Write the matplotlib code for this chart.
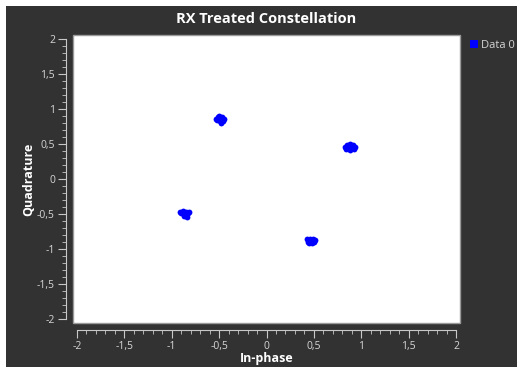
#!/usr/bin/env python3

import matplotlib.pyplot as plt
from matplotlib.patches import Rectangle
from matplotlib.ticker import MultipleLocator, FuncFormatter

# constellation points (4 clusters)
i_pts = [-0.53, -0.50, -0.47, -0.45, -0.52, -0.49, -0.46, -0.50, -0.48, -0.51,
         -0.91, -0.88, -0.85, -0.82, -0.90, -0.86, -0.83, -0.87, -0.84,
         0.43, 0.46, 0.49, 0.51, 0.44, 0.47, 0.50, 0.45, 0.48,
         0.85, 0.88, 0.91, 0.83, 0.86, 0.89, 0.93, 0.84, 0.88, 0.92]
q_pts = [0.86, 0.89, 0.88, 0.85, 0.84, 0.82, 0.83, 0.87, 0.80, 0.88,
         -0.47, -0.46, -0.47, -0.47, -0.49, -0.50, -0.49, -0.53, -0.54,
         -0.86, -0.86, -0.86, -0.87, -0.89, -0.88, -0.89, -0.91, -0.91,
         0.49, 0.50, 0.49, 0.46, 0.46, 0.45, 0.45, 0.42, 0.41, 0.42]
series_name = 'Data 0'

bg = '#323232'
fg = '#d6d6d6'
plt.rcParams['font.family'] = ['Open Sans', 'DejaVu Sans']

W, H = 523, 370
fig = plt.figure(figsize=(W / 100, H / 100), dpi=100, facecolor='white')
fig.patches.append(Rectangle((6 / W, 3 / H), 511 / W, 361 / H, transform=fig.transFigure,
                             facecolor=bg, edgecolor='none', zorder=-10))

ax = fig.add_axes([73 / W, (H - 323) / H, 387 / W, 288 / H])
ax.set_facecolor('white')
ax.patch.set_edgecolor('#9a9a9a')
ax.patch.set_linewidth(1)

ax.plot(i_pts, q_pts, 'o', color='#0000ff', markersize=4.2, markeredgewidth=0, label=series_name)

ax.set_xlim(-2.042, 2.042)
ax.set_ylim(-2.05, 2.05)

fmt = FuncFormatter(lambda v, p: f'{v:g}'.replace('.', ','))
for axis in (ax.xaxis, ax.yaxis):
    axis.set_major_locator(MultipleLocator(0.5))
    axis.set_minor_locator(MultipleLocator(0.1))
    axis.set_major_formatter(fmt)

ax.spines['top'].set_visible(False)
ax.spines['right'].set_visible(False)
for side in ('left', 'bottom'):
    ax.spines[side].set_position(('outward', 5))
    ax.spines[side].set_bounds(-2, 2)
    ax.spines[side].set_color('#c8c8c8')
ax.tick_params(which='major', direction='out', length=6, color='#c8c8c8', labelcolor=fg, labelsize=7.5, pad=2)
ax.tick_params(which='minor', direction='out', length=3, color='#c8c8c8')

ax.set_xlabel('In-phase', color='white', fontsize=9, fontweight='bold', labelpad=0)
ax.set_ylabel('Quadrature', color='white', fontsize=9, fontweight='bold', labelpad=1)
fig.text(266 / W, 1 - 19 / H, 'RX Treated Constellation', color='white', fontsize=10.5,
         fontweight='bold', ha='center', va='center')

leg = ax.legend(loc='upper left', bbox_to_anchor=(469 / W, 1 - 38 / H), bbox_transform=fig.transFigure,
                frameon=False, handlelength=0.5, handletextpad=0.4, borderaxespad=0, borderpad=0.2,
                fontsize=8)
for h in leg.legend_handles:
    h.set_marker('s')
    h.set_markersize(6)
for t in leg.get_texts():
    t.set_color(fg)

fig.savefig('out.png', dpi=100, facecolor=fig.get_facecolor())
